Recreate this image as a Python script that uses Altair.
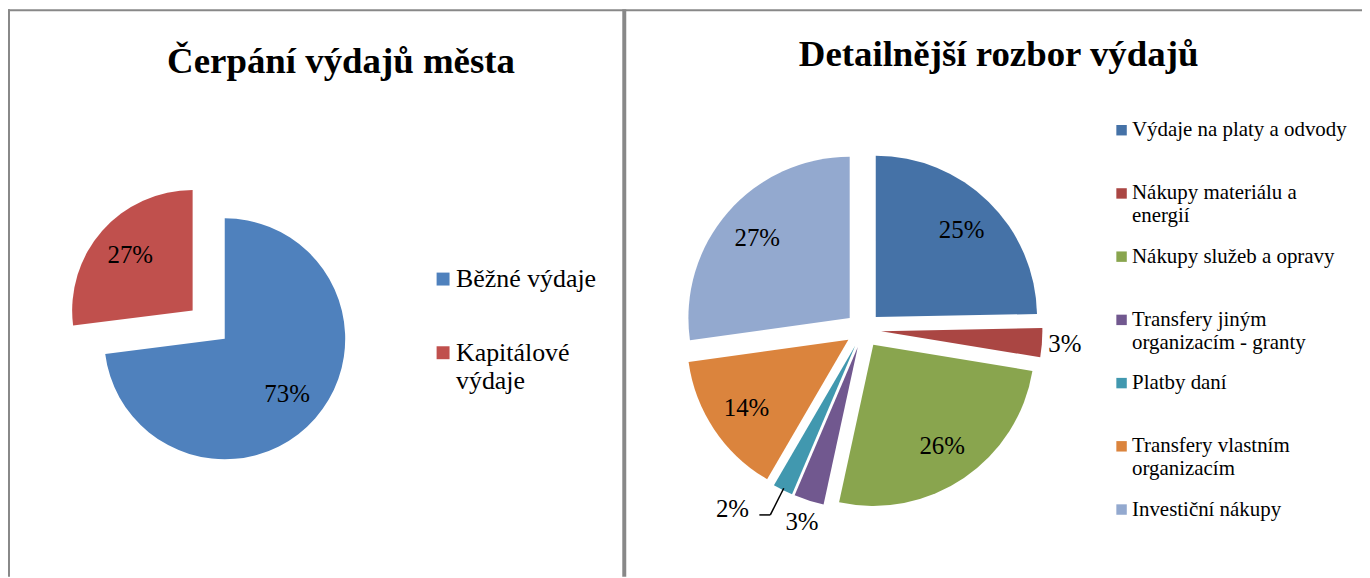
import altair as alt
import pandas as pd

# ---------------- data ----------------
left_title = "Čerpání výdajů města"
left_categories = ["Běžné výdaje", "Kapitálové výdaje"]
left_values = [73, 27]
left_colors = ["#4F81BD", "#C0504D"]

right_title = "Detailnější rozbor výdajů"
right_categories = [
    "Výdaje na platy a odvody",
    "Nákupy materiálu a energií",
    "Nákupy služeb a opravy",
    "Transfery jiným organizacím - granty",
    "Platby daní",
    "Transfery vlastním organizacím",
    "Investiční nákupy",
]
right_values = [24.7, 2.9, 25.8, 3.0, 2.0, 14.4, 27.2]
right_colors = ["#4572A7", "#AA4643", "#89A54E", "#71588F", "#4198AF", "#DB843D", "#93A9CF"]

# how the legend labels wrap in the original
legend_lines = {
    "Kapitálové výdaje": ["Kapitálové", "výdaje"],
    "Nákupy materiálu a energií": ["Nákupy materiálu a", "energií"],
    "Transfery jiným organizacím - granty": ["Transfery jiným", "organizacím - granty"],
    "Transfery vlastním organizacím": ["Transfery vlastním", "organizacím"],
}

# ---------------- layout / style ----------------
FONT = "Liberation Serif"
W, H = 1360, 570
OFF = 8  # page margin


def P(v):
    return v - OFF


FRAME = "#888888"

L_CX, L_CY, L_R = P(225.7), P(339), 121
R_CX, R_CY, R_R = P(867), P(330), 162


def wrap_expr(d):
    expr = "datum.label"
    for k, lines in d.items():
        arr = "[" + ", ".join("'" + s + "'" for s in lines) + "]"
        expr = f"datum.label == '{k}' ? {arr} : ({expr})"
    return expr


LABEL_EXPR = wrap_expr(legend_lines)


def base(cats, vals, explode_expr, radius, inner_frac, small_gap, tiny_gap, tiny_shift):
    df = pd.DataFrame({"cat": cats, "value": vals, "order": list(range(len(cats)))})
    return (
        alt.Chart(df)
        .transform_joinaggregate(total="sum(value)")
        .transform_window(cum="sum(value)", sort=[alt.SortField("order")], frame=[None, 0])
        .transform_calculate(a1="2*PI*datum.cum/datum.total")
        .transform_calculate(a0="datum.a1 - 2*PI*datum.value/datum.total")
        .transform_calculate(mid="(datum.a0 + datum.a1)/2")
        .transform_calculate(pct="datum.value/datum.total")
        .transform_calculate(ex=explode_expr)
        .transform_calculate(dx="datum.ex*sin(datum.mid)")
        .transform_calculate(dy="-datum.ex*cos(datum.mid)")
        .transform_calculate(
            lr=f"datum.pct >= 0.05 ? {inner_frac * radius} : (datum.pct < 0.025 ? {radius + tiny_gap} : {radius + small_gap})"
        )
        .transform_calculate(lang=f"datum.pct < 0.025 ? datum.mid + {tiny_shift} : datum.mid")
    )


def legend(x, y, size, sym, row_pad, offset):
    return alt.Legend(
        orient="none",
        legendX=x,
        legendY=y,
        title=None,
        padding=0,
        labelFont=FONT,
        labelFontSize=size,
        labelColor="black",
        labelLimit=600,
        labelOffset=offset,
        labelExpr=LABEL_EXPR,
        symbolType="square",
        symbolSize=sym,
        symbolStrokeWidth=0,
        symbolOpacity=1,
        rowPadding=row_pad,
        gridAlign="all",
    )


def pie(cats, vals, colors, cx, cy, r, explode_expr, inner_frac, small_gap, tiny_gap, tiny_shift,
        leg, label_size):
    b = base(cats, vals, explode_expr, r, inner_frac, small_gap, tiny_gap, tiny_shift)
    arcs = b.mark_arc(radius=r).encode(
        theta=alt.Theta("a0:Q", scale=None),
        theta2="a1:Q",
        x=alt.value(cx),
        y=alt.value(cy),
        xOffset=alt.XOffset("dx:Q", scale=None),
        yOffset=alt.YOffset("dy:Q", scale=None),
        color=alt.Color("cat:N", scale=alt.Scale(domain=cats, range=colors), sort=cats, legend=leg),
    )
    labels = b.mark_text(font=FONT, fontSize=label_size, color="black").encode(
        x=alt.value(cx),
        y=alt.value(cy),
        xOffset=alt.XOffset("dx:Q", scale=None),
        yOffset=alt.YOffset("dy:Q", scale=None),
        theta=alt.Theta("lang:Q", scale=None),
        radius=alt.Radius("lr:Q", scale=None),
        text=alt.Text("pct:Q", format=".0%"),
    )
    # leader line for the tiniest slice
    lead = (
        b.transform_filter("datum.pct < 0.025")
        .transform_calculate(lx=f"{cx} + datum.dx + datum.lr*sin(datum.lang)")
        .transform_calculate(ly=f"{cy} + datum.dy - datum.lr*cos(datum.lang)")
        .transform_calculate(hx1="datum.lx + 27", hx2="datum.lx + 38", hy="datum.ly + 6")
        .transform_calculate(ex_x=f"{cx} + datum.dx + {r - 2}*sin(datum.mid)")
        .transform_calculate(ex_y=f"{cy} + datum.dy - {r - 2}*cos(datum.mid)")
    )
    lead_h = lead.mark_rule(color="black", strokeWidth=1.5).encode(
        x=alt.X("hx1:Q", scale=None, axis=None),
        x2="hx2:Q",
        y=alt.Y("hy:Q", scale=None, axis=None),
    )
    lead_d = lead.mark_rule(color="black", strokeWidth=1.5).encode(
        x=alt.X("hx2:Q", scale=None, axis=None),
        x2="ex_x:Q",
        y=alt.Y("hy:Q", scale=None, axis=None),
        y2="ex_y:Q",
    )
    return [arcs, labels, lead_h, lead_d]


left_layers = pie(
    left_categories, left_values, left_colors, L_CX, L_CY, L_R,
    explode_expr="datum.cat == 'Kapitálové výdaje' ? 43 : 0",
    inner_frac=0.69, small_gap=23, tiny_gap=43, tiny_shift=0.18,
    leg=legend(P(432), P(279) - 13, 26, 169, 20, 0),
    label_size=25,
)

right_layers = pie(
    right_categories, right_values, right_colors, R_CX, R_CY, R_R,
    explode_expr="18",
    inner_frac=0.76, small_gap=23, tiny_gap=43, tiny_shift=0.18,
    leg=legend(P(1116), P(130) - 11, 21, 110, 18.5, 0),
    label_size=25,
)

# titles
title_left = alt.Chart(pd.DataFrame({"t": [left_title]})).mark_text(
    font=FONT, fontSize=37, fontWeight="bold", color="black", align="center", baseline="alphabetic"
).encode(text="t:N", x=alt.value(P(342.5)), y=alt.value(P(72)))

title_right = alt.Chart(pd.DataFrame({"t": [right_title]})).mark_text(
    font=FONT, fontSize=37, fontWeight="bold", color="black", align="center", baseline="alphabetic"
).encode(text="t:N", x=alt.value(P(1003)), y=alt.value(P(64.5)))

# frame lines
one = pd.DataFrame({"k": [0]})
frame_top = alt.Chart(one).mark_rule(color=FRAME, strokeWidth=2).encode(
    x=alt.value(0), x2=alt.value(W), y=alt.value(1)
)
frame_left = alt.Chart(one).mark_rule(color=FRAME, strokeWidth=2).encode(
    x=alt.value(1), y=alt.value(0), y2=alt.value(H)
)
frame_mid = alt.Chart(one).mark_rule(color=FRAME, strokeWidth=4).encode(
    x=alt.value(P(627)), y=alt.value(0), y2=alt.value(H)
)

chart = (
    alt.layer(
        frame_top, frame_left, frame_mid,
        title_left, title_right,
        *left_layers, *right_layers,
    )
    .resolve_scale(color="independent")
    .properties(width=W, height=H, padding=0, autosize=alt.AutoSizeParams(type="none"), background="white")
    .configure(font=FONT)
    .configure_legend(labelFont=FONT)
    .configure_view(stroke=None)
)

chart.save("out.html", embed_options={"renderer": "svg", "actions": False})
